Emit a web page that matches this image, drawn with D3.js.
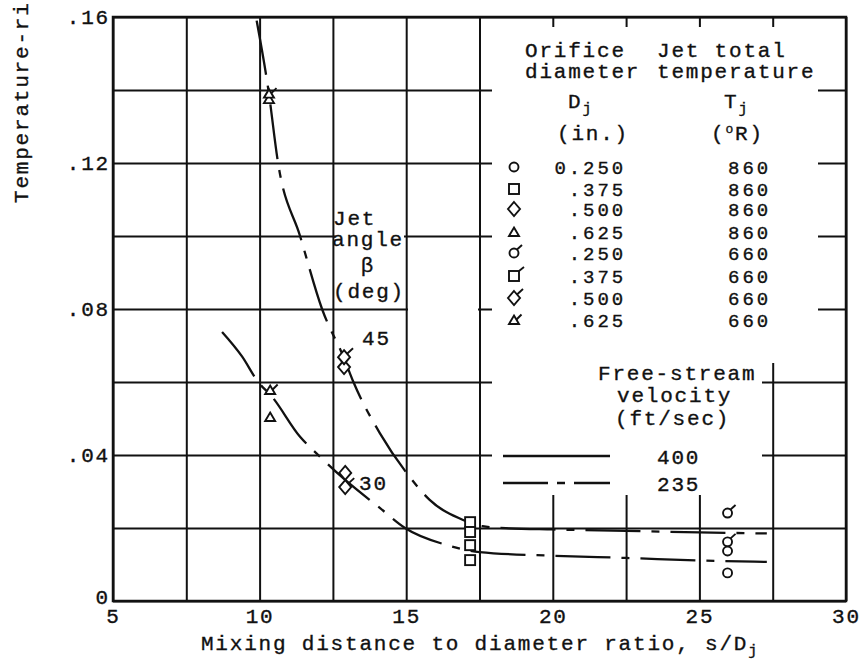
<!DOCTYPE html>
<html>
<head>
<meta charset="utf-8">
<script src="https://cdn.jsdelivr.net/npm/d3@7"></script>
<style>
  html, body { margin: 0; padding: 0; background: #fff; }
  svg text { font-family: "Liberation Mono", "DejaVu Sans Mono", monospace; font-size: 21px; letter-spacing: 1.8px; fill: #111; stroke: #111; stroke-width: 0.35px; }
  svg text.row { font-size: 19px; letter-spacing: 2.9px; }
</style>
</head>
<body>
<svg id="chart" width="862" height="662"></svg>
<script>
// Axis ticks
const xGridValues = [5, 7.5, 10, 12.5, 15, 17.5, 20, 22.5, 25, 27.5, 30];
const xTickLabels = [5, 10, 15, 20, 25, 30];
const yGridValues = [0, 0.02, 0.04, 0.06, 0.08, 0.10, 0.12, 0.14, 0.16];
const yTickLabels = [0, 0.04, 0.08, 0.12, 0.16];

// Legend table: orifice diameter (in.) and jet total temperature (deg R)
const diameterLabels = ["0.250", ".375", ".500", ".625", ".250", ".375", ".500", ".625"];
const temperatureLabels = ["860", "860", "860", "860", "660", "660", "660", "660"];
const symbolTypes = ["circle", "square", "diamond", "triangle", "circle", "square", "diamond", "triangle"];
const symbolFlags = [false, false, false, false, true, true, true, true];
const velocityLabels = ["400", "235"];

// Faired curves, jet angle 45 and 30 deg: [s/Dj, temperature-rise ratio]
const curve45 = [[9.9, 0.159], [10.3, 0.140], [10.63, 0.120], [11.38, 0.100], [12.13, 0.080],
  [12.88, 0.0665], [13.2, 0.060], [14.1, 0.046], [15.07, 0.0345], [15.8, 0.0277],
  [16.94, 0.0222], [17.6, 0.0205], [18.5, 0.0199], [20, 0.0196], [22.5, 0.0192],
  [25, 0.0188], [27.3, 0.0185]];
const curve30 = [[8.72, 0.0737], [9.4, 0.067], [9.95, 0.060], [10.4, 0.0562], [11.38, 0.045],
  [12.0, 0.040], [12.9, 0.0333], [14.1, 0.0255], [14.96, 0.020], [16.4, 0.0153],
  [17.5, 0.0134], [20, 0.0124], [22.5, 0.0118], [25, 0.0111], [27.3, 0.0107]];

// Measured points: [s/Dj, ratio, symbol index into legend table]
const points = [
  [10.32, 0.1375, 3], [10.32, 0.1390, 7],
  [10.36, 0.0504, 3], [10.36, 0.0578, 7],
  [12.88, 0.0641, 2], [12.88, 0.0668, 6],
  [12.92, 0.0351, 2], [12.92, 0.0312, 6],
  [17.18, 0.0216, 1], [17.18, 0.0189, 1], [17.18, 0.0153, 1], [17.18, 0.0112, 1],
  [25.96, 0.0241, 4], [25.96, 0.0162, 4], [25.96, 0.0137, 0], [25.96, 0.0077, 0]
];

const svg = d3.select("#chart");
const x = d3.scaleLinear().domain([5, 30]).range([113, 846]);
const y = d3.scaleLinear().domain([0, 0.16]).range([601, 17]);
const ink = "#111";

// Grid
const grid = svg.append("g");
grid.append("g").attr("transform", `translate(0,${y(0)})`)
  .call(d3.axisBottom(x).tickValues(xGridValues).tickSize(-(y(0) - y(0.16))).tickFormat(""))
  .call(g => g.select(".domain").remove())
  .call(g => g.selectAll("line").attr("stroke", ink).attr("stroke-width", 2));
grid.append("g").attr("transform", `translate(${x(5)},0)`)
  .call(d3.axisLeft(y).tickValues(yGridValues).tickSize(-(x(30) - x(5))).tickFormat(""))
  .call(g => g.select(".domain").remove())
  .call(g => g.selectAll("line").attr("stroke", ink).attr("stroke-width", 2));

// Cleared areas behind the lettering
const masks = svg.append("g").attr("fill", "#fff");
masks.append("rect").attr("x", 492).attr("y", 27).attr("width", 326).attr("height", 336);
masks.append("rect").attr("x", 492).attr("y", 363).attr("width", 270).attr("height", 132);
masks.append("rect").attr("x", 335).attr("y", 200).attr("width", 69).attr("height", 100);
masks.append("rect").attr("x", 408).attr("y", 304).attr("width", 70).attr("height", 10);

// Frame
svg.append("rect").attr("x", x(5)).attr("y", y(0.16))
  .attr("width", x(30) - x(5)).attr("height", y(0) - y(0.16))
  .attr("fill", "none").attr("stroke", ink).attr("stroke-width", 2.5);

// Tick labels
svg.append("g").attr("transform", `translate(0,${y(0)})`)
  .call(d3.axisBottom(x).tickValues(xTickLabels).tickSize(0).tickPadding(7).tickFormat(d3.format("d")))
  .call(g => g.select(".domain").remove())
  .call(g => g.selectAll("text").attr("fill", ink).attr("font-size", null).attr("font-family", null));
svg.append("g").attr("transform", `translate(${x(5)},0)`)
  .call(d3.axisLeft(y).tickValues(yTickLabels).tickSize(0).tickPadding(3)
    .tickFormat(d => d === 0 ? "0" : d3.format(".2f")(d).slice(1)))
  .call(g => g.select(".domain").remove())
  .call(g => g.selectAll("text").attr("fill", ink).attr("font-size", null).attr("font-family", null)
    .attr("dy", d => d === 0 ? "0.1em" : "0.32em"));

// Axis titles
const xt = svg.append("text").attr("x", 480).attr("y", 650).attr("text-anchor", "middle")
  .text("Mixing distance to diameter ratio, s/D");
xt.append("tspan").attr("font-size", 15).attr("dy", 5).text("j");
svg.append("text").attr("transform", "translate(28,203) rotate(-90)")
  .text("Temperature-ri");

// Curves
const line = d3.line().x(d => x(d[0])).y(d => y(d[1])).curve(d3.curveMonotoneX);
[curve45, curve30].forEach(c => {
  svg.append("path").attr("d", line(c)).attr("fill", "none").attr("stroke", ink)
    .attr("stroke-width", 2.3).attr("stroke-dasharray", "55,11,8,11");
});

// Symbols
function drawSymbol(g, type, flag) {
  g.attr("fill", "#fff").attr("stroke", ink).attr("stroke-width", 1.9);
  let f;
  if (type === "circle") {
    g.append("circle").attr("r", 4.5);
    f = [[3, -3.5], [8, -8]];
  } else if (type === "square") {
    g.append("rect").attr("x", -5).attr("y", -5).attr("width", 10).attr("height", 10);
    f = [[5, -5], [10, -9]];
  } else if (type === "diamond") {
    g.append("path").attr("d", "M0,-7L6,0L0,7L-6,0Z");
    f = [[3, -3.5], [9, -9]];
  } else {
    g.append("path").attr("d", "M0,-4.5L5,4L-5,4Z");
    f = [[2.5, -0.5], [7.5, -5.5]];
  }
  if (flag) g.append("line").attr("x1", f[0][0]).attr("y1", f[0][1]).attr("x2", f[1][0]).attr("y2", f[1][1]);
}
points.forEach(p => {
  const g = svg.append("g").attr("transform", `translate(${x(p[0])},${y(p[1])})`);
  drawSymbol(g, symbolTypes[p[2]], symbolFlags[p[2]]);
});

// Curve labels
const jl = svg.append("g");
jl.append("text").attr("x", 333).attr("y", 225).text("Jet");
jl.append("text").attr("x", 332).attr("y", 246).text("angle");
jl.append("text").attr("x", 368).attr("y", 272).attr("text-anchor", "middle").text("β");
jl.append("text").attr("x", 333).attr("y", 298).text("(deg)");
svg.append("text").attr("x", 362).attr("y", 345).text("45");
svg.append("text").attr("x", 359).attr("y", 490).text("30");

// Legend
const lg = svg.append("g");
lg.append("text").attr("x", 525).attr("y", 57).text("Orifice");
lg.append("text").attr("x", 657).attr("y", 57).text("Jet total");
lg.append("text").attr("x", 525).attr("y", 78).text("diameter");
lg.append("text").attr("x", 657).attr("y", 78).text("temperature");
const dj = lg.append("text").attr("x", 568).attr("y", 108).text("D");
dj.append("tspan").attr("font-size", 15).attr("dy", 5).text("j");
const tj = lg.append("text").attr("x", 724).attr("y", 108).text("T");
tj.append("tspan").attr("font-size", 15).attr("dy", 5).text("j");
lg.append("text").attr("x", 557).attr("y", 140).text("(in.)");
const tr = lg.append("text").attr("x", 711).attr("y", 140).text("(");
tr.append("tspan").attr("font-size", 13).attr("dy", -7).text("o");
tr.append("tspan").attr("dy", 7).text("R)");

const rowY = [167, 189, 209, 232, 253, 276, 298, 320];
diameterLabels.forEach((d, i) => {
  drawSymbol(lg.append("g").attr("transform", `translate(514,${rowY[i]})`), symbolTypes[i], symbolFlags[i]);
  lg.append("text").attr("class", "row").attr("x", 626).attr("y", rowY[i] + 7)
    .attr("text-anchor", "end").text(d);
  lg.append("text").attr("class", "row").attr("x", 771).attr("y", rowY[i] + 7)
    .attr("text-anchor", "end").text(temperatureLabels[i]);
});

lg.append("text").attr("x", 598).attr("y", 380).text("Free-stream");
lg.append("text").attr("x", 617).attr("y", 402).text("velocity");
lg.append("text").attr("x", 615).attr("y", 425).text("(ft/sec)");

const keyY = [456, 483];
const keyDash = [null, "45,9,8,9"];
velocityLabels.forEach((v, i) => {
  lg.append("line").attr("x1", 503).attr("x2", 610).attr("y1", keyY[i]).attr("y2", keyY[i])
    .attr("stroke", ink).attr("stroke-width", 2.3).attr("stroke-dasharray", keyDash[i]);
  lg.append("text").attr("x", 657).attr("y", keyY[i] + 7.5).text(v);
});
</script>
</body>
</html>
